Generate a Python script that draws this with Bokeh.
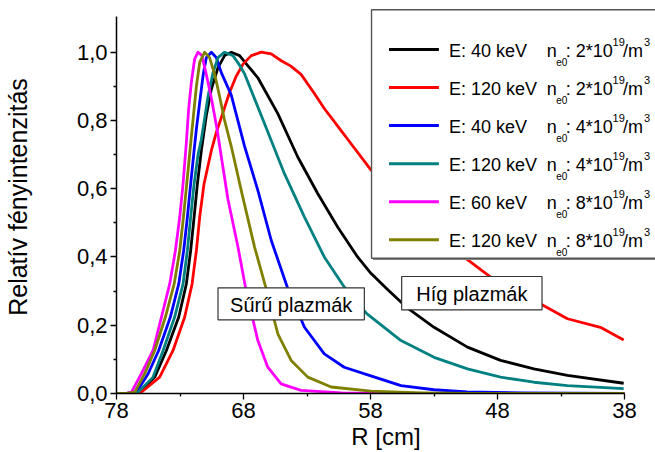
from bokeh.plotting import figure
from bokeh.models import Range1d, FixedTicker, CustomJSTickFormatter, BoxAnnotation, Label
from bokeh.embed import file_html
from bokeh.resources import INLINE

# ---------------- data ----------------
r_black = [78, 77.0, 76.17, 74.99, 74.07, 73.1, 72.5, 72.16, 71.89, 71.63, 71.32, 70.93, 70.53, 70.01,
           69.49, 68.96, 68.31, 67.65, 66.87, 65.3, 63.73, 62.16, 60.59, 59.02, 57.97, 56.66, 55.08,
           53.0, 50.37, 47.76, 45.14, 42.5, 38.07]
v_black = [0, 0, 0.004, 0.048, 0.126, 0.224, 0.321, 0.419, 0.517, 0.614, 0.712, 0.814, 0.892, 0.955,
           0.99, 1.0, 0.99, 0.96, 0.925, 0.82, 0.693, 0.586, 0.488, 0.40, 0.352, 0.305, 0.25,
           0.194, 0.136, 0.097, 0.072, 0.053, 0.030]

r_red = [78, 77.0, 76.04, 74.6, 73.55, 72.63, 72.05, 71.71, 71.45, 71.11, 70.53, 70.14, 69.62, 69.1,
         68.57, 68.04, 67.39, 66.6, 65.82, 65.03, 64.3, 63.47, 62.42, 61.64, 60.33, 59.8, 57.97,
         54.0, 50.37, 48.54, 45.14, 42.5, 39.9, 38.07]
v_red = [0, 0, 0.004, 0.048, 0.126, 0.224, 0.321, 0.419, 0.517, 0.614, 0.712, 0.765, 0.823, 0.882,
         0.93, 0.965, 0.99, 1.0, 0.995, 0.975, 0.96, 0.935, 0.879, 0.835, 0.771, 0.745, 0.655,
         0.52, 0.392, 0.341, 0.273, 0.219, 0.194, 0.157]

r_blue = [78, 77.2, 76.43, 75.51, 74.68, 73.76, 73.1, 72.71, 72.42, 72.16, 71.89, 71.71, 71.45, 71.19,
          70.93, 70.53, 70.14, 69.75, 68.97, 67.92, 66.87, 65.82, 64.51, 63.2, 61.64, 60.07, 58.1,
          55.6, 53.0, 50.4, 46.0, 42.0, 38.0]
v_blue = [0, 0, 0.004, 0.058, 0.126, 0.224, 0.321, 0.419, 0.517, 0.614, 0.712, 0.775, 0.853, 0.93,
          0.984, 1.0, 0.984, 0.94, 0.875, 0.725, 0.595, 0.449, 0.307, 0.194, 0.116, 0.077, 0.053,
          0.023, 0.011, 0.005, 0.002, 0.001, 0.0]

r_teal = [78, 77.1, 76.3, 75.12, 74.33, 73.42, 72.76, 72.42, 72.16, 71.89, 71.58, 71.32, 71.11, 70.79,
          70.4, 70.01, 69.49, 68.83, 68.31, 67.92, 66.35, 64.78, 63.2, 61.64, 60.07, 58.3, 55.6,
          53.0, 50.37, 47.76, 45.14, 42.5, 38.07]
v_teal = [0, 0, 0.004, 0.048, 0.126, 0.224, 0.321, 0.419, 0.517, 0.614, 0.70, 0.745, 0.794, 0.872,
          0.94, 0.984, 1.0, 0.99, 0.962, 0.937, 0.791, 0.644, 0.517, 0.40, 0.312, 0.234, 0.155,
          0.106, 0.072, 0.048, 0.033, 0.023, 0.014]

r_magenta = [78, 77.3, 76.82, 76.04, 75.12, 74.46, 73.81, 73.36, 73.02, 72.76, 72.5, 72.32, 72.11,
             71.85, 71.58, 71.27, 70.93, 70.53, 70.07, 69.8, 69.23, 68.44, 67.79, 66.87, 66.09,
             65.04, 63.47, 60.3, 55.0, 38.0]
v_magenta = [0, 0, 0.004, 0.058, 0.126, 0.224, 0.321, 0.419, 0.517, 0.614, 0.735, 0.833, 0.911,
             0.98, 1.0, 0.99, 0.935, 0.865, 0.772, 0.706, 0.57, 0.43, 0.30, 0.155, 0.077,
             0.028, 0.009, 0.002, 0.0, 0.0]

r_olive = [78, 77.2, 76.56, 75.78, 74.99, 74.15, 73.46, 73.02, 72.73, 72.47, 72.21, 71.97, 71.71,
           71.45, 71.06, 70.67, 70.27, 69.88, 69.49, 68.97, 68.18, 67.13, 66.22, 65.3, 64.25,
           62.94, 61.1, 57.97, 54.0, 50.0, 38.0]
v_olive = [0, 0, 0.004, 0.058, 0.126, 0.224, 0.321, 0.419, 0.517, 0.614, 0.714, 0.804, 0.90,
           0.97, 1.0, 0.984, 0.935, 0.87, 0.80, 0.725, 0.595, 0.429, 0.307, 0.175, 0.097,
           0.048, 0.019, 0.007, 0.002, 0.0, 0.0]

energies = ["E: 40 keV", "E: 120 keV", "E: 40 keV", "E: 120 keV", "E: 60 keV", "E: 120 keV"]
densities = ["2", "2", "4", "4", "8", "8"]
colors = ["#000000", "#ff0000", "#0000ff", "#008080", "#ff00ff", "#808000"]
r_series = [r_black, r_red, r_blue, r_teal, r_magenta, r_olive]
v_series = [v_black, v_red, v_blue, v_teal, v_magenta, v_olive]

x_major = [78, 68, 58, 48, 38]
x_minor = [73, 63, 53, 43]
y_major = [0.0, 0.2, 0.4, 0.6, 0.8, 1.0]
y_minor = [0.1, 0.3, 0.5, 0.7, 0.9]

# ---------------- layout ----------------
W, H = 655, 452
FONT = "Liberation Sans"
# pixel geometry of the reference axes
PX78, PX38 = 115.0, 624.0
PY0, PY1 = 393.0, 51.7
XS = (78 - 38) / (PX38 - PX78)
YS = 1.0 / (PY0 - PY1)


def X(px):
    return 78 - (px - PX78) * XS


def Y(py):
    return (PY0 - py) * YS


p = figure(width=W, height=H, output_backend="svg", toolbar_location=None,
           x_range=Range1d(78, X(W)), y_range=Range1d(0, Y(0)),
           min_border_left=int(PX78), min_border_right=0, min_border_top=0,
           min_border_bottom=int(H - PY0),
           background_fill_color="white", border_fill_color="white")
p.outline_line_color = None
p.xgrid.visible = False
p.ygrid.visible = False

for ax in (p.xaxis[0], p.yaxis[0]):
    ax.axis_line_width = 1.5
    ax.axis_line_color = "black"
    ax.major_tick_line_color = "black"
    ax.minor_tick_line_color = "black"
    ax.major_tick_line_width = 1.3
    ax.minor_tick_line_width = 1.3
    ax.major_tick_in = 0
    ax.major_tick_out = 6
    ax.minor_tick_in = 0
    ax.minor_tick_out = 3
    ax.major_label_text_font = FONT
    ax.major_label_text_font_size = "22px"
    ax.major_label_text_color = "black"
    ax.major_label_standoff = 3
    ax.axis_label_text_font = FONT
    ax.axis_label_text_font_style = "normal"
    ax.axis_label_text_color = "black"

p.xaxis.ticker = FixedTicker(ticks=x_major, minor_ticks=x_minor)
p.xaxis.bounds = (38, 78)
p.xaxis.axis_label = "R [cm]"
p.xaxis.axis_label_text_font_size = "24px"
p.xaxis.axis_label_standoff = 2

p.yaxis.ticker = FixedTicker(ticks=y_major, minor_ticks=y_minor)
p.yaxis.bounds = (0, Y(16))
p.yaxis.formatter = CustomJSTickFormatter(code="return tick.toFixed(1).replace('.', ',');")
p.yaxis.axis_label = "Relatív fényintenzitás"
p.yaxis.axis_label_text_font_size = "25px"
p.yaxis.axis_label_standoff = 42

# curves
for r, v, c in zip(r_series, v_series, colors):
    p.line(r, v, line_color=c, line_width=2.8, line_join="round")

# text boxes
for (l, rr, t, b, txt) in [(216.7, 363.3, 287.3, 319.3, "Sűrű plazmák"),
                           (400.7, 541.3, 276.0, 309.3, "Híg plazmák")]:
    p.add_layout(BoxAnnotation(left=X(l), right=X(rr), top=Y(t), bottom=Y(b),
                               fill_color="white", fill_alpha=1.0, line_color="#333333",
                               line_width=1.2, line_alpha=1.0))
    p.add_layout(Label(x=X((l + rr) / 2), y=Y((t + b) / 2 + 1), text=txt, text_font=FONT,
                       text_font_size="20px", text_align="center", text_baseline="middle",
                       text_color="black"))

# legend (drawn by hand so that sub/superscripts are real text)
p.add_layout(BoxAnnotation(left=X(372), right=X(700), top=Y(11), bottom=Y(259.5),
                           fill_color="#808080", fill_alpha=1.0, line_color=None))
p.add_layout(BoxAnnotation(left=X(370.5), right=X(700), top=Y(9.3), bottom=Y(257.7),
                           fill_color="white", fill_alpha=1.0, line_color="#555555",
                           line_width=1.4, line_alpha=1.0))
row0, step = 49.0, 38.06
for i, (e, d, c) in enumerate(zip(energies, densities, colors)):
    yr = row0 + i * step
    p.add_layout(BoxAnnotation(left=X(388), right=X(438), top=Y(yr - 1.5), bottom=Y(yr + 1.5),
                               fill_color=c, fill_alpha=1.0, line_color=None))
    pieces = [(448, yr + 1.5, e, "18px"), (546, yr + 1.5, "n", "18px"),
              (555.5, yr + 12, "e0", "10px"), (565, yr + 1.5, ": " + d + "*10", "18px"),
              (612, yr - 8, "19", "11px"), (622.5, yr + 1.5, "/m", "18px"),
              (643.5, yr - 8, "3", "11px")]
    for px, py, txt, fs in pieces:
        p.add_layout(Label(x=X(px), y=Y(py), text=txt, text_font=FONT, text_font_size=fs,
                           text_align="left", text_baseline="middle", text_color="black"))

open("out.html", "w").write(file_html(p, INLINE))
